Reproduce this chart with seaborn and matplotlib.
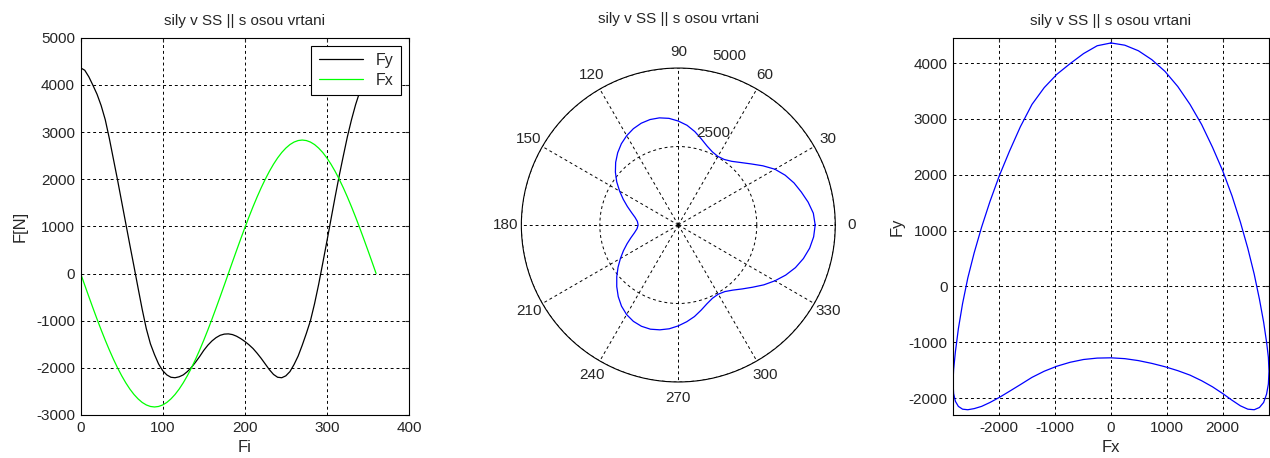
import numpy as np
import pandas as pd
import matplotlib
matplotlib.use("Agg")
import matplotlib.pyplot as plt
import seaborn as sns

# ---- data ----
fi = list(range(0, 361, 5))
Fy = [4360, 4310, 4170, 3990, 3800, 3560, 3260, 2860, 2420, 1980, 1520, 1060, 600, 150,
      -310, -760, -1170, -1490, -1720, -1920, -2060, -2150, -2200, -2210, -2190, -2150,
      -2080, -1990, -1880, -1760, -1630, -1520, -1430, -1360, -1310, -1285, -1280,
      -1295, -1330, -1380, -1440, -1510, -1590, -1690, -1800, -1920, -2040, -2140, -2200,
      -2210, -2170, -2080, -1930, -1750, -1520, -1270, -1000, -640, -230, 220, 680, 1150,
      1620, 2070, 2490, 2900, 3260, 3580, 3850, 4060, 4220, 4320, 4360]
Fx = [0, -247, -491, -732, -968, -1196, -1415, -1623, -1819, -2001, -2168, -2318, -2451,
      -2565, -2659, -2734, -2787, -2819, -2830, -2819, -2787, -2734, -2659, -2565, -2451,
      -2318, -2168, -2001, -1819, -1623, -1415, -1196, -968, -732, -491, -247, 0,
      247, 491, 732, 968, 1196, 1415, 1623, 1819, 2001, 2168, 2318, 2451, 2565, 2659,
      2734, 2787, 2819, 2830, 2819, 2787, 2734, 2659, 2565, 2451, 2318, 2168, 2001, 1819,
      1623, 1415, 1196, 968, 732, 491, 247, 0]
series_names = ["Fy", "Fx"]
title_txt = "sily v SS || s osou vrtani"
left_xticks = [0, 100, 200, 300, 400]
left_yticks = [-3000, -2000, -1000, 0, 1000, 2000, 3000, 4000, 5000]
polar_angles = [0, 30, 60, 90, 120, 150, 180, 210, 240, 270, 300, 330]
polar_rings = [2500, 5000]
right_xticks = [-2000, -1000, 0, 1000, 2000]
right_yticks = [-2000, -1000, 0, 1000, 2000, 3000, 4000]

sns.set_style("white")
plt.rcParams['font.family'] = ['Liberation Sans', 'DejaVu Sans']
plt.rcParams['font.size'] = 11
plt.rcParams['axes.linewidth'] = 0.8
plt.rcParams['axes.unicode_minus'] = False

GRID = dict(color='black', linestyle=(0, (3, 3)), linewidth=0.7)
TF = 11
LF = 12

fig = plt.figure(figsize=(12.7, 4.58), dpi=100)

# ---------------- left: F vs Fi ----------------
n = len(fi)
df = pd.DataFrame({
    "Fi": fi + fi,
    "F": Fy + Fx,
    "series": [series_names[0]] * n + [series_names[1]] * n,
})
ax1 = fig.add_axes([0.0635, 0.0939, 0.2585, 0.8238])
sns.lineplot(data=df, x="Fi", y="F", hue="series", hue_order=series_names,
             palette={"Fy": "black", "Fx": "#00ff00"}, sort=False, estimator=None,
             linewidth=0.9, ax=ax1)
ax1.set_xlim(0, 400)
ax1.set_ylim(-3000, 5000)
ax1.set_xticks(left_xticks)
ax1.set_yticks(left_yticks)
ax1.grid(True, **GRID)
ax1.set_xlabel("Fi", fontsize=LF, labelpad=4)
ax1.set_ylabel("F[N]", fontsize=LF, labelpad=6)
ax1.set_title(title_txt, fontsize=TF, pad=9)
ax1.tick_params(direction='in', length=3, top=True, right=True, labelsize=TF, pad=4)
for s in ax1.spines.values():
    s.set_color('black')
leg = ax1.legend(loc='upper right', fontsize=11.5, frameon=True, fancybox=False,
                 edgecolor='black', framealpha=1, handlelength=2.8,
                 borderaxespad=0.5, labelspacing=0.3, borderpad=0.45)
leg.get_frame().set_linewidth(0.8)

# ---------------- middle: polar ----------------
ax2 = fig.add_axes([0.4105, 0.1659, 0.2472, 0.6856], projection='polar')
theta = np.deg2rad(np.array(fi))
rad = np.hypot(np.array(Fx), np.array(Fy))
sns.lineplot(x=theta, y=rad, sort=False, estimator=None, color='blue',
             linewidth=0.9, ax=ax2)
ax2.set_ylim(0, polar_rings[-1])
ax2.set_rgrids(polar_rings, labels=['' for _ in polar_rings])
ax2.set_thetagrids(polar_angles, labels=[str(a) for a in polar_angles])
ax2.grid(True, **GRID)
ax2.set_xlabel("")
ax2.set_ylabel("")
ax2.tick_params(axis='x', labelsize=TF, pad=1)
ax2.spines['polar'].set_color('black')
ax2.spines['polar'].set_linewidth(0.8)
for rv in polar_rings:
    ax2.text(np.deg2rad(78), rv + 280, str(rv), fontsize=TF, ha='left', va='bottom')
fig.text(0.5340, 1 - 19 / 458, title_txt, fontsize=TF, ha='center', va='center')

# ---------------- right: Fy vs Fx ----------------
ax3 = fig.add_axes([0.7504, 0.0939, 0.2488, 0.8238])
sns.lineplot(x=Fx, y=Fy, sort=False, estimator=None, color='blue',
             linewidth=0.9, ax=ax3)
xmin, xmax = min(Fx), max(Fx)
xspan = xmax - xmin
bw, bh = 0.2488 * 1270, 0.8238 * 458
yspan = xspan * bh / bw
ymid = (max(Fy) + min(Fy)) / 2
ax3.set_xlim(xmin, xmax)
ax3.set_ylim(ymid - yspan / 2, ymid + yspan / 2)
ax3.set_xticks(right_xticks)
ax3.set_yticks(right_yticks)
ax3.grid(True, **GRID)
ax3.set_xlabel("Fx", fontsize=LF, labelpad=4)
ax3.set_ylabel("Fy", fontsize=LF, labelpad=3)
ax3.set_title(title_txt, fontsize=TF, pad=9)
ax3.tick_params(direction='in', length=3, top=True, right=True, labelsize=TF, pad=4)
for s in ax3.spines.values():
    s.set_color('black')

fig.savefig("out.png", dpi=100, facecolor='white')
